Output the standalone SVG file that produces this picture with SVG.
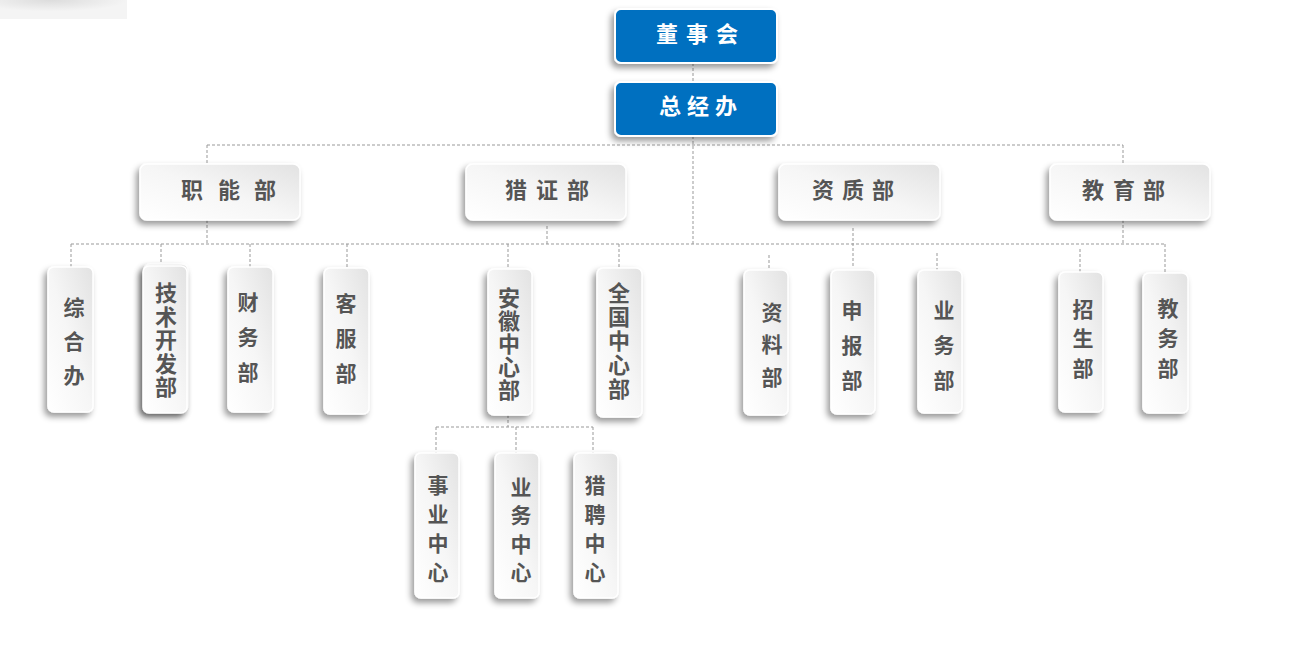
<svg xmlns="http://www.w3.org/2000/svg" width="1295" height="648" viewBox="0 0 1295 648">
<defs>
<linearGradient id="gw" x1="0" y1="1" x2="1" y2="0">
<stop offset="0" stop-color="#ffffff"/>
<stop offset="0.5" stop-color="#f6f6f6"/>
<stop offset="1" stop-color="#e2e2e2"/>
</linearGradient>
<radialGradient id="corner" cx="0.4" cy="0" r="0.6">
<stop offset="0" stop-color="#dcdcdc"/>
<stop offset="1" stop-color="#f4f4f4"/>
</radialGradient>
<filter id="sh" x="-40%" y="-30%" width="180%" height="160%">
<feDropShadow dx="-3" dy="4" stdDeviation="3" flood-color="#000" flood-opacity="0.4"/>
</filter>
</defs>
<style>
.blue{fill:#0070c0;stroke:#ffffff;stroke-width:2;filter:url(#sh)}
.box{fill:url(#gw);stroke:#ffffff;stroke-width:1.5;filter:url(#sh)}
.bt{font-family:"Noto Sans CJK SC","Liberation Sans",sans-serif;font-size:22px;font-weight:bold;fill:#ffffff;text-anchor:middle}
.ht{font-family:"Noto Sans CJK SC","Liberation Sans",sans-serif;font-size:22px;font-weight:bold;fill:#555555;text-anchor:middle}
.vt{font-family:"Noto Sans CJK SC","Liberation Sans",sans-serif;font-size:21px;font-weight:bold;fill:#555555;writing-mode:vertical-rl;text-anchor:start}
.vt5{font-family:"Noto Sans CJK SC","Liberation Sans",sans-serif;font-size:22px;font-weight:bold;fill:#555555;writing-mode:vertical-rl;text-anchor:start}
.c{stroke:#999999;stroke-width:1;stroke-dasharray:3,2;fill:none}
</style>
<rect x="0" y="0" width="127" height="19" fill="url(#corner)"/>
<g id="connectors">
<line class="c" x1="693" y1="63" x2="693" y2="82"/>
<line class="c" x1="693" y1="136" x2="693" y2="244"/>
<line class="c" x1="207" y1="145" x2="1123" y2="145"/>
<line class="c" x1="207" y1="145" x2="207" y2="164"/>
<line class="c" x1="1123" y1="145" x2="1123" y2="164"/>
<line class="c" x1="71" y1="244" x2="1165" y2="244"/>
<line class="c" x1="207" y1="220" x2="207" y2="244"/>
<line class="c" x1="547" y1="226" x2="547" y2="244"/>
<line class="c" x1="853" y1="228" x2="853" y2="268"/>
<line class="c" x1="1123" y1="220" x2="1123" y2="244"/>
<line class="c" x1="71" y1="244" x2="71" y2="267"/>
<line class="c" x1="161" y1="244" x2="161" y2="265"/>
<line class="c" x1="250" y1="244" x2="250" y2="267"/>
<line class="c" x1="347" y1="244" x2="347" y2="268"/>
<line class="c" x1="508" y1="244" x2="508" y2="269"/>
<line class="c" x1="619" y1="244" x2="619" y2="268"/>
<line class="c" x1="769" y1="255" x2="769" y2="270"/>
<line class="c" x1="937" y1="253" x2="937" y2="270"/>
<line class="c" x1="1080" y1="249" x2="1080" y2="272"/>
<line class="c" x1="1165" y1="244" x2="1165" y2="273"/>
<line class="c" x1="508" y1="415" x2="508" y2="427"/>
<line class="c" x1="436" y1="427" x2="593" y2="427"/>
<line class="c" x1="436" y1="427" x2="436" y2="453"/>
<line class="c" x1="516" y1="427" x2="516" y2="453"/>
<line class="c" x1="593" y1="427" x2="593" y2="453"/>
</g>
<g id="n-dongshihui">
<rect class="blue" x="615" y="9" width="162" height="54" rx="6"/>
<text class="bt"><tspan x="667" y="42">董</tspan><tspan x="697" y="42">事</tspan><tspan x="727" y="42">会</tspan></text>
</g>
<g id="n-zongjingban">
<rect class="blue" x="615" y="82" width="162" height="54" rx="6"/>
<text class="bt"><tspan x="670" y="114">总</tspan><tspan x="698" y="114">经</tspan><tspan x="726" y="114">办</tspan></text>
</g>
<g id="n-zhineng">
<rect class="box" x="140" y="164" width="160" height="56" rx="7"/>
<text class="ht"><tspan x="192" y="198">职</tspan><tspan x="229" y="198">能</tspan><tspan x="265" y="198">部</tspan></text>
</g>
<g id="n-liezheng">
<rect class="box" x="466" y="164" width="160" height="56" rx="7"/>
<text class="ht"><tspan x="516" y="198">猎</tspan><tspan x="547" y="198">证</tspan><tspan x="578" y="198">部</tspan></text>
</g>
<g id="n-zizhi">
<rect class="box" x="779" y="164" width="161" height="56" rx="7"/>
<text class="ht"><tspan x="823" y="198">资</tspan><tspan x="853" y="198">质</tspan><tspan x="883" y="198">部</tspan></text>
</g>
<g id="n-jiaoyu">
<rect class="box" x="1050" y="164" width="160" height="56" rx="7"/>
<text class="ht"><tspan x="1093" y="198">教</tspan><tspan x="1124" y="198">育</tspan><tspan x="1154" y="198">部</tspan></text>
</g>
<g id="n-zongheban">
<rect class="box" x="48" y="267" width="45" height="145" rx="6"/>
<text class="vt" x="74" y="296.5" letter-spacing="13">综合办</text>
</g>
<g id="n-jishu">
<rect class="box" x="144" y="264" width="44" height="147" rx="6"/>
<rect class="box" x="143" y="266" width="44" height="147" rx="6"/>
<text class="vt5" x="166" y="282" letter-spacing="1.5">技术开发部</text>
</g>
<g id="n-caiwu">
<rect class="box" x="228" y="267" width="45" height="145" rx="6"/>
<text class="vt" x="248" y="291.5" letter-spacing="14">财务部</text>
</g>
<g id="n-kefu">
<rect class="box" x="324" y="268" width="45" height="146" rx="6"/>
<text class="vt" x="346" y="292.5" letter-spacing="14">客服部</text>
</g>
<g id="n-anhui">
<rect class="box" x="488" y="269" width="44" height="146" rx="6"/>
<text class="vt5" x="509" y="286.5" letter-spacing="1.1">安徽中心部</text>
</g>
<g id="n-quanguo">
<rect class="box" x="597" y="268" width="45" height="149" rx="6"/>
<text class="vt5" x="619" y="282" letter-spacing="2">全国中心部</text>
</g>
<g id="n-ziliao">
<rect class="box" x="744" y="270" width="44" height="145" rx="6"/>
<text class="vt" x="772" y="301.5" letter-spacing="11.5">资料部</text>
</g>
<g id="n-shenbao">
<rect class="box" x="831" y="270" width="44" height="144" rx="6"/>
<text class="vt" x="852" y="299.5" letter-spacing="14">申报部</text>
</g>
<g id="n-yewubu">
<rect class="box" x="918" y="270" width="44" height="143" rx="6"/>
<text class="vt" x="944" y="299.5" letter-spacing="14">业务部</text>
</g>
<g id="n-zhaosheng">
<rect class="box" x="1059" y="272" width="44" height="140" rx="6"/>
<text class="vt" x="1083" y="298.5" letter-spacing="8.5">招生部</text>
</g>
<g id="n-jiaowu">
<rect class="box" x="1143" y="273" width="45" height="140" rx="6"/>
<text class="vt" x="1168" y="297.5" letter-spacing="9">教务部</text>
</g>
<g id="n-shiye">
<rect class="box" x="415" y="453" width="44" height="145" rx="6"/>
<text class="vt" x="438" y="474.5" letter-spacing="8">事业中心</text>
</g>
<g id="n-yewuzhongxin">
<rect class="box" x="495" y="453" width="44" height="145" rx="6"/>
<text class="vt" x="521" y="476.5" letter-spacing="7.3">业务中心</text>
</g>
<g id="n-liepin">
<rect class="box" x="574" y="453" width="44" height="145" rx="6"/>
<text class="vt" x="595" y="474.5" letter-spacing="8">猎聘中心</text>
</g>
</svg>
